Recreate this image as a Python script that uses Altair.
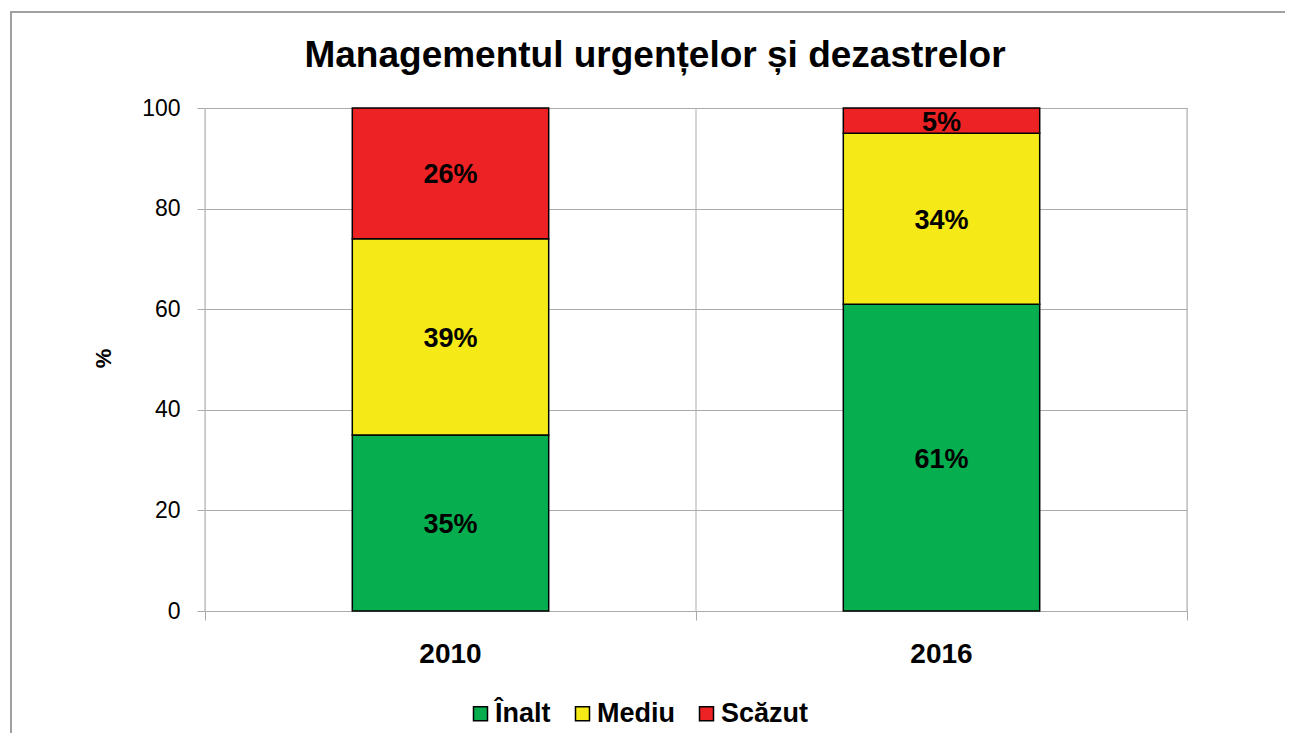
import altair as alt
import pandas as pd

# ---- data ----
categories = ["2010", "2016"]
levels = ["Înalt", "Mediu", "Scăzut"]
inalt = [35, 61]
mediu = [39, 34]
scazut = [26, 5]
y_ticks = [0, 20, 40, 60, 80, 100]
colors = ["#06AE50", "#F5EA17", "#ED2224"]

title_text = "Managementul urgențelor și dezastrelor"

rows = []
for i, cat in enumerate(categories):
    for j, (lev, vals) in enumerate(zip(levels, [inalt, mediu, scazut])):
        rows.append({"year": cat, "level": lev, "idx": j, "value": vals[i]})
df = pd.DataFrame(rows)

# category boundaries (for the vertical grid / axis ticks)
bounds = pd.DataFrame({"b": list(range(len(categories) + 1))})

FONT = "Liberation Sans"
GRID = "#ABABAB"
W, H = 982, 503

# outer frame
frame = alt.Chart(pd.DataFrame({"a": [0]})).mark_rect(
    fill=None, stroke="#A0A0A0", strokeWidth=2
).encode(
    x=alt.value(-194), x2=alt.value(3000), y=alt.value(-96), y2=alt.value(3000)
)

# vertical grid lines at category boundaries
vrules = alt.Chart(bounds).mark_rule(color=GRID, strokeWidth=1).encode(
    x=alt.X("b:Q",
            scale=alt.Scale(domain=[0, len(categories)], nice=False, zero=True),
            axis=alt.Axis(orient="bottom", values=list(range(len(categories) + 1)),
                          labels=False, domain=False, grid=False, ticks=True,
                          tickSize=9, tickColor=GRID, title=None))
)

base = alt.Chart(df).transform_stack(
    stack="value", groupby=["year"], as_=["y0", "y1"],
    sort=[alt.SortField("idx", order="ascending")]
).transform_calculate(
    mid="(datum.y0 + datum.y1) / 2",
    lbl="datum.value + '%'"
)

xenc = alt.X("year:N", sort=categories,
             scale=alt.Scale(paddingInner=0.6, paddingOuter=0.3),
             axis=alt.Axis(orient="bottom", title=None, ticks=False, domain=False,
                           grid=False, labelAngle=0, labelFont=FONT,
                           labelFontSize=28, labelFontWeight="bold",
                           labelColor="black", labelPadding=29,
                           labelBaseline="top"))

bars = base.mark_bar(stroke="black", strokeWidth=1.5).encode(
    x=xenc,
    y=alt.Y("y0:Q", scale=alt.Scale(domain=[0, 100], nice=False),
            axis=alt.Axis(values=y_ticks, title="%", grid=True, gridColor=GRID,
                          domain=False, tickColor=GRID, tickSize=8,
                          labelFont=FONT, labelFontSize=23, labelColor="black",
                          labelPadding=17,
                          titleFont=FONT, titleFontSize=22, titleFontWeight="bold",
                          titleColor="black", titleAngle=270, titleX=-102,
                          titleY=250, titleAlign="center",
                          titleBaseline="middle")),
    y2="y1:Q",
    color=alt.Color("level:N", sort=levels,
                    scale=alt.Scale(domain=levels, range=colors),
                    legend=alt.Legend(orient="none", legendX=262, legendY=592,
                                      direction="horizontal", title=None,
                                      labelFont=FONT, labelFontSize=27,
                                      labelFontWeight="bold", labelColor="black",
                                      symbolType="square", symbolSize=196,
                                      symbolStrokeColor="black",
                                      symbolStrokeWidth=1.5, labelOffset=1,
                                      columnPadding=18)),
    order=alt.Order("idx:Q", sort="ascending")
)

labels = base.mark_text(font=FONT, fontSize=27, fontWeight="bold",
                        color="black", baseline="middle", dy=2).encode(
    x=alt.X("year:N", sort=categories),
    y=alt.Y("mid:Q"),
    text="lbl:N"
)

inner = alt.layer(bars, labels)

chart = alt.layer(frame, vrules, inner).resolve_scale(
    x="independent"
).resolve_axis(
    x="independent"
).properties(
    width=W, height=H,
    title=alt.TitleParams(title_text, font=FONT, fontSize=37, fontWeight="bold",
                          color="black", anchor="middle", dx=-41, dy=68),
    padding={"left": 197, "top": 100, "right": 98, "bottom": 122},
    autosize=alt.AutoSizeParams(type="none"),
).configure_view(stroke=None).configure(background="white")

chart.save("out.html", embed_options={"renderer": "svg", "actions": False})
